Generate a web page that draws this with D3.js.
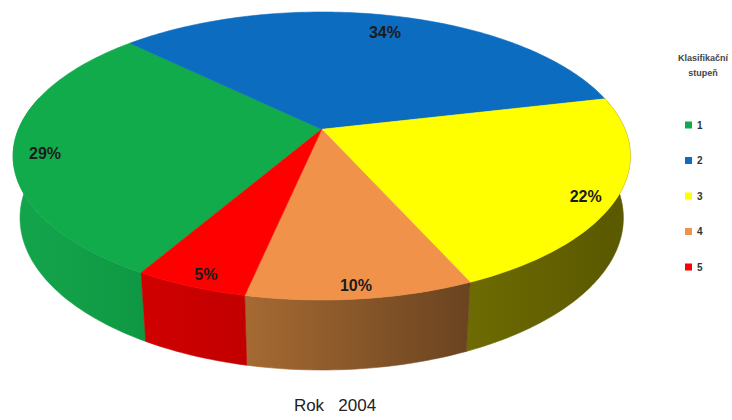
<!DOCTYPE html>
<html>
<head>
<meta charset="utf-8">
<script src="https://cdn.jsdelivr.net/npm/d3@7"></script>
<style>
  body { margin: 0; background: #fff; }
  svg { display: block; }
</style>
</head>
<body>
<div id="chart"></div>
<script>
// data
const categories = ["1", "2", "3", "4", "5"];
const shares = [29, 34, 22, 10, 5];
const labelTexts = ["29%", "34%", "22%", "10%", "5%"];
const legendTitle = ["Klasifikační", "stupeň"];
const chartTitle = "Rok   2004";

const width = 732, height = 420;

// colours: top face, wall left, wall right
const topColors = ["#12AB4C", "#0B6CC0", "#FFFF00", "#F0924A", "#FF0000"];
const wallLeft  = ["#13A34B", "#0A5A9C", "#6D6B02", "#A66A33", "#D00000"];
const wallRight = ["#0F9843", "#084E88", "#5C5A00", "#6A4320", "#C20000"];

// simple perspective camera for the 3d disc
const cam = { cx: 321.7, cy: 129.3, s: 1454, D: 4.795, sinE: 0.4585, cosE: 0.8887, h: 0.2315 };

function proj(phi, r, Y) {
  const X = r * Math.sin(phi), Z = -r * Math.cos(phi);
  const z = cam.D - Y * cam.sinE - Z * cam.cosE;
  const yc = Y * cam.cosE - Z * cam.sinE;
  return [cam.cx + cam.s * X / z, cam.cy - cam.s * yc / z];
}

function arcPoints(a, b, r, Y) {
  const n = Math.max(2, Math.ceil(Math.abs(b - a) / (Math.PI / 180)));
  return d3.range(n + 1).map(i => proj(a + (b - a) * i / n, r, Y));
}

const rad = Math.PI / 180;
const pie = d3.pie().sort(null).value(d => d)
  .startAngle(210 * rad).endAngle(570 * rad);
const arcs = pie(shares);

const svg = d3.select("#chart").append("svg")
  .attr("width", width)
  .attr("height", height);

const defs = svg.append("defs");
const line = d3.line();

// only the part of the outer wall that faces the camera
const vis = Math.acos(1 / (cam.D * cam.cosE));
const front = [[vis, 2 * Math.PI - vis], [vis + 2 * Math.PI, 4 * Math.PI - vis]];

const walls = svg.append("g");
arcs.forEach((d, i) => {
  front.forEach(([lo, hi], j) => {
    const a = Math.max(d.startAngle, lo), b = Math.min(d.endAngle, hi);
    if (b <= a) return;
    const top = arcPoints(a, b, 1, 0);
    const bot = arcPoints(b, a, 1, -cam.h);
    const xa = proj(a, 1, 0)[0], xb = proj(b, 1, 0)[0];
    const id = `wall-${i}-${j}`;
    const g = defs.append("linearGradient").attr("id", id)
      .attr("gradientUnits", "userSpaceOnUse")
      .attr("x1", Math.min(xa, xb)).attr("x2", Math.max(xa, xb))
      .attr("y1", 0).attr("y2", 0);
    g.append("stop").attr("offset", 0).attr("stop-color", wallLeft[i]);
    g.append("stop").attr("offset", 1).attr("stop-color", wallRight[i]);
    walls.append("path")
      .attr("d", line(top.concat(bot)) + "Z")
      .attr("fill", `url(#${id})`)
      .attr("stroke", `url(#${id})`)
      .attr("stroke-width", 0.6);
  });
});

// top faces
const apex = proj(0, 0, 0);
svg.append("g").selectAll("path")
  .data(arcs)
  .join("path")
  .attr("d", d => line([apex].concat(arcPoints(d.startAngle, d.endAngle, 1, 0))) + "Z")
  .attr("fill", (d, i) => topColors[i])
  .attr("stroke", (d, i) => topColors[i])
  .attr("stroke-width", 0.6);

// percentage labels
const labelPos = d => proj((d.startAngle + d.endAngle) / 2, 0.9, 0);
svg.append("g")
  .attr("font-family", "'Liberation Sans', Arial, sans-serif")
  .attr("font-weight", "bold")
  .attr("font-size", 16)
  .attr("fill", "#1b1b1b")
  .attr("text-anchor", "middle")
  .selectAll("text")
  .data(arcs)
  .join("text")
  .attr("x", d => labelPos(d)[0])
  .attr("y", d => labelPos(d)[1] + 7)
  .attr("dy", "0.35em")
  .text((d, i) => labelTexts[i]);

// legend
const legend = svg.append("g")
  .attr("font-family", "'Liberation Sans', Arial, sans-serif")
  .attr("font-weight", "bold");

legend.selectAll("text.title")
  .data(legendTitle)
  .join("text")
  .attr("class", "title")
  .attr("x", 703)
  .attr("y", (d, i) => 61 + i * 15)
  .attr("text-anchor", "middle")
  .attr("font-size", 9)
  .attr("fill", "#444")
  .text(d => d);

const ly = d3.scalePoint().domain(categories).range([125, 267]);

const item = legend.selectAll("g.item")
  .data(categories)
  .join("g")
  .attr("class", "item")
  .attr("transform", d => `translate(685,${ly(d)})`);

item.append("rect")
  .attr("x", 0).attr("y", -3.5)
  .attr("width", 7).attr("height", 7)
  .attr("fill", (d, i) => topColors[i]);

item.append("text")
  .attr("x", 12).attr("y", 0)
  .attr("dy", "0.35em")
  .attr("font-size", 10)
  .attr("fill", "#333")
  .text(d => d);

// title
svg.append("text")
  .attr("x", 335).attr("y", 411)
  .attr("text-anchor", "middle")
  .attr("font-family", "'Liberation Sans', Arial, sans-serif")
  .attr("font-size", 17)
  .attr("fill", "#222")
  .style("white-space", "pre")
  .text(chartTitle);
</script>
</body>
</html>
